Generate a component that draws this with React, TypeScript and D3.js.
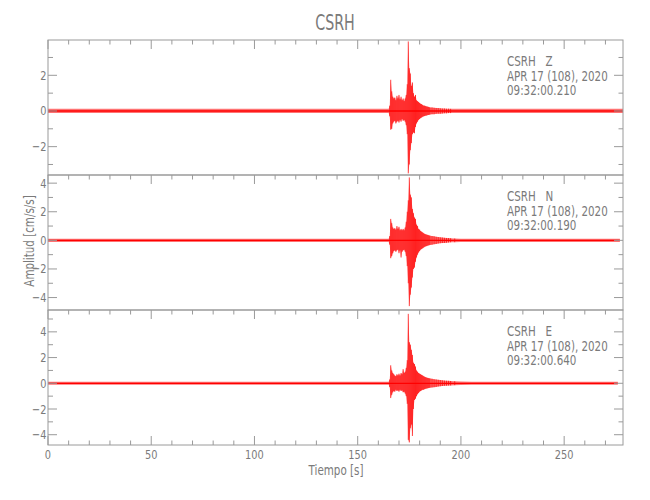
import React from "react";
import * as d3 from "d3";

const W = 650;
const H = 500;

const title = "CSRH";
const station = "CSRH";
const components = ["Z", "N", "E"];
const startTimes = ["09:32:00.210", "09:32:00.190", "09:32:00.640"];
const dateLabel = "APR 17 (108), 2020";
const xLabel = "Tiempo [s]";
const yLabel = "Amplitud [cm/s/s]";

const xMax = 278.5;
const xMajorTicks = [0, 50, 100, 150, 200, 250];
const xMinorTicks = d3.range(0, 280, 10);
const yMajorTicks = [-4, -2, 0, 2, 4];
const yMinorTicks = [-5, -3, -1, 1, 3, 5];
const yDomains: [number, number][] = [
  [-3.59, 3.98],
  [-4.87, 4.57],
  [-4.8, 5.7],
];

// envelope of each trace: [time s, max, min]
const zEnvelope: [number, number, number][] = [
  [0, 0.12, -0.12], [165, 0.12, -0.12], [165.5, 0.3, -0.3], [166, 1.75, -1.05],
  [166.5, 1.1, -1.0], [167, 0.8, -0.7], [167.5, 0.7, -0.6], [168, 0.75, -0.55],
  [168.5, 0.6, -0.7], [169, 0.85, -0.6], [169.5, 0.7, -0.55], [170, 0.9, -0.65],
  [170.5, 0.65, -0.5], [171, 0.8, -0.6], [171.5, 0.6, -0.45], [172, 0.7, -0.55],
  [172.5, 0.55, -0.5], [173, 0.7, -0.6], [173.5, 0.9, -0.8], [174, 1.5, -1.3],
  [174.5, 3.9, -3.5], [175, 2.4, -3.0], [175.5, 2.1, -2.2], [176, 1.4, -1.8],
  [176.5, 1.6, -1.3], [177, 1.0, -1.2], [177.5, 0.8, -1.25], [178, 0.9, -0.9],
  [178.5, 0.6, -0.7], [179, 0.55, -0.6], [179.5, 0.5, -0.5], [180, 0.45, -0.45],
  [180.5, 0.4, -0.4], [181, 0.38, -0.36], [181.5, 0.33, -0.32], [182, 0.3, -0.3],
  [182.5, 0.3, -0.28], [183, 0.27, -0.26], [183.5, 0.25, -0.25], [184, 0.24, -0.22],
  [184.5, 0.22, -0.22], [185, 0.2, -0.2], [186, 0.2, -0.18], [187, 0.18, -0.18],
  [188, 0.17, -0.16], [189, 0.16, -0.15], [190, 0.15, -0.15], [191, 0.14, -0.14],
  [192, 0.14, -0.13], [193, 0.13, -0.13], [194, 0.13, -0.12], [195, 0.12, -0.12],
  [200, 0.12, -0.12], [278.5, 0.12, -0.12],
];

const nEnvelope: [number, number, number][] = [
  [0, 0.12, -0.12], [165, 0.12, -0.12], [165.5, 0.3, -0.3], [166, 1.5, -1.25],
  [166.5, 1.2, -1.1], [167, 0.9, -0.9], [167.5, 0.8, -0.75], [168, 0.85, -0.7],
  [168.5, 0.75, -0.8], [169, 1.0, -0.7], [169.5, 0.8, -0.65], [170, 0.95, -0.9],
  [170.5, 0.7, -0.7], [171, 0.8, -1.2], [171.5, 0.7, -0.8], [172, 0.8, -0.7],
  [172.5, 0.7, -0.65], [173, 0.9, -0.8], [173.5, 1.3, -1.1], [174, 2.0, -1.8],
  [174.5, 2.8, -3.0], [175, 4.4, -4.6], [175.5, 3.2, -3.8], [176, 3.0, -3.3],
  [176.5, 2.2, -2.6], [177, 1.9, -2.0], [177.5, 1.6, -1.9], [178, 1.5, -1.5],
  [178.5, 1.1, -1.2], [179, 1.0, -1.0], [179.5, 0.8, -0.85], [180, 0.75, -0.75],
  [180.5, 0.65, -0.65], [181, 0.6, -0.6], [181.5, 0.55, -0.55], [182, 0.5, -0.5],
  [182.5, 0.45, -0.45], [183, 0.42, -0.42], [183.5, 0.4, -0.4], [184, 0.38, -0.36],
  [184.5, 0.35, -0.35], [185, 0.33, -0.32], [186, 0.3, -0.3], [187, 0.28, -0.27],
  [188, 0.25, -0.25], [189, 0.23, -0.22], [190, 0.21, -0.2], [191, 0.2, -0.19],
  [192, 0.18, -0.18], [193, 0.17, -0.17], [194, 0.16, -0.15], [195, 0.15, -0.14],
  [197, 0.13, -0.13], [200, 0.12, -0.12], [277, 0.12, -0.12],
];

const eEnvelope: [number, number, number][] = [
  [0, 0.12, -0.12], [165, 0.12, -0.12], [165.5, 0.3, -0.3], [166, 1.4, -1.15],
  [166.5, 1.0, -0.9], [167, 0.8, -0.7], [167.5, 0.7, -0.6], [168, 0.6, -0.65],
  [168.5, 0.55, -0.5], [169, 0.7, -0.6], [169.5, 0.6, -0.55], [170, 0.75, -0.65],
  [170.5, 0.6, -0.5], [171, 0.8, -0.6], [171.5, 0.7, -0.55], [172, 1.1, -0.7],
  [172.5, 0.8, -0.65], [173, 0.9, -0.8], [173.5, 1.2, -1.0], [174, 1.8, -1.6],
  [174.5, 5.4, -4.4], [175, 3.2, -4.6], [175.5, 3.0, -3.5], [176, 2.6, -3.2],
  [176.5, 2.2, -4.1], [177, 1.6, -2.0], [177.5, 1.5, -1.3], [178, 1.3, -1.2],
  [178.5, 1.0, -1.0], [179, 0.9, -0.85], [179.5, 0.8, -0.75], [180, 0.75, -0.65],
  [180.5, 0.7, -0.6], [181, 0.65, -0.55], [181.5, 0.6, -0.5], [182, 0.55, -0.5],
  [182.5, 0.5, -0.45], [183, 0.47, -0.42], [183.5, 0.44, -0.4], [184, 0.42, -0.38],
  [184.5, 0.4, -0.36], [185, 0.38, -0.34], [186, 0.35, -0.32], [187, 0.32, -0.3],
  [188, 0.3, -0.28], [189, 0.27, -0.25], [190, 0.25, -0.23], [191, 0.23, -0.21],
  [192, 0.21, -0.2], [193, 0.2, -0.19], [194, 0.19, -0.18], [195, 0.18, -0.17],
  [197, 0.16, -0.15], [200, 0.13, -0.13], [205, 0.12, -0.12], [276, 0.12, -0.12],
];

const envelopes = [zEnvelope, nEnvelope, eEnvelope];

const FONT = "'DejaVu Sans Condensed', 'Liberation Sans Narrow', sans-serif";
const AXIS = "#9a9a9a";
const TEXT = "#7a7a7a";
const RED = "#ff0000";

const margin = { left: 48, right: 27, top: 40, bottom: 55 };
const plotW = W - margin.left - margin.right;
const panelH = (H - margin.top - margin.bottom) / 3;

type TProps = {
  x: number;
  y: number;
  size: number;
  anchor?: "start" | "middle" | "end";
  sx?: number;
  rotate?: number;
  children: React.ReactNode;
};

function NText({ x, y, size, anchor = "start", sx = 0.84, rotate = 0, children }: TProps) {
  return (
    <text
      transform={`translate(${x},${y}) rotate(${rotate}) scale(${sx},1)`}
      textAnchor={anchor}
      fontSize={size}
      fontWeight={200}
      fill={TEXT}
      style={{ whiteSpace: "pre" }}
    >
      {children}
    </text>
  );
}

export default function App() {
  const x = d3.scaleLinear().domain([0, xMax]).range([margin.left, margin.left + plotW]);
  const x0 = margin.left;
  const x1 = margin.left + plotW;

  return (
    <svg width={W} height={H} style={{ display: "block", position: "absolute", left: 0, top: 0, background: "#fff" }} fontFamily={FONT}>
      <rect x={0} y={0} width={W} height={H} fill="#fff" />
      <NText x={335} y={30} size={22} anchor="middle" sx={0.72}>
        {title}
      </NText>
      {envelopes.map((env, i) => {
        const top = margin.top + i * panelH;
        const bottom = top + panelH;
        const y = d3.scaleLinear().domain(yDomains[i]).range([bottom, top]);
        const area = d3
          .area<[number, number, number]>()
          .x((d) => x(d[0]))
          .y0((d) => y(d[2]))
          .y1((d) => y(d[1]));
        const mid = d3
          .line<[number, number, number]>()
          .x((d) => x(d[0]))
          .y(() => y(0));
        const last = i === 2;
        const [dlo, dhi] = yDomains[i];
        const clipId = `clip${i}`;
        return (
          <g key={i}>
            <clipPath id={clipId}>
              <rect x={x0} y={top} width={plotW} height={panelH} />
            </clipPath>
            <g clipPath={`url(#${clipId})`}>
              <path d={area(env) || ""} fill={RED} fillOpacity={0.55} />
              {env
                .filter((d) => d[0] > 165 && d[0] < 200)
                .map((d, k) => (
                  <line key={k} x1={x(d[0])} x2={x(d[0])} y1={y(d[1])} y2={y(d[2])} stroke={RED} strokeWidth={0.8} strokeOpacity={0.9} />
                ))}
              <path d={mid([env[0], env[env.length - 1]]) || ""} stroke={RED} strokeWidth={1.3} fill="none" />
            </g>
            <rect x={x0} y={top} width={plotW} height={panelH} fill="none" stroke={AXIS} strokeWidth={1} />
            {xMinorTicks.map((t) => {
              const major = t % 50 === 0;
              return <line key={"xt" + t} x1={x(t)} x2={x(t)} y1={top} y2={top + (major ? 9 : 4.5)} stroke={AXIS} />;
            })}
            {last &&
              xMinorTicks.map((t) => {
                const major = t % 50 === 0;
                return <line key={"xb" + t} x1={x(t)} x2={x(t)} y1={bottom} y2={bottom - (major ? 9 : 4.5)} stroke={AXIS} />;
              })}
            {last &&
              xMajorTicks.map((t) => (
                <NText key={"xl" + t} x={x(t)} y={bottom + 14} size={13} anchor="middle">
                  {String(t)}
                </NText>
              ))}
            {yMajorTicks
              .filter((v) => v > dlo && v < dhi)
              .map((v) => (
                <g key={"ym" + v}>
                  <line x1={x0} x2={x0 + 9} y1={y(v)} y2={y(v)} stroke={AXIS} />
                  <line x1={x1} x2={x1 - 9} y1={y(v)} y2={y(v)} stroke={AXIS} />
                  <NText x={x0 - 1.5} y={y(v) + 4.5} size={13} anchor="end">
                    {v < 0 ? "\u2212" + Math.abs(v) : String(v)}
                  </NText>
                </g>
              ))}
            {yMinorTicks
              .filter((v) => v > dlo && v < dhi)
              .map((v) => (
                <g key={"yn" + v}>
                  <line x1={x0} x2={x0 + 5} y1={y(v)} y2={y(v)} stroke={AXIS} />
                  <line x1={x1} x2={x1 - 4.5} y1={y(v)} y2={y(v)} stroke={AXIS} />
                </g>
              ))}
            <NText x={507} y={top + 26} size={14} sx={0.82}>
              {`${station}   ${components[i]}`}
            </NText>
            <NText x={507} y={top + 40.5} size={14} sx={0.82}>
              {dateLabel}
            </NText>
            <NText x={507} y={top + 55} size={14} sx={0.82}>
              {startTimes[i]}
            </NText>
          </g>
        );
      })}
      <NText x={336} y={475} size={14} anchor="middle" sx={0.82}>
        {xLabel}
      </NText>
      <NText x={34} y={241} size={14} anchor="middle" sx={0.82} rotate={-90}>
        {yLabel}
      </NText>
    </svg>
  );
}
